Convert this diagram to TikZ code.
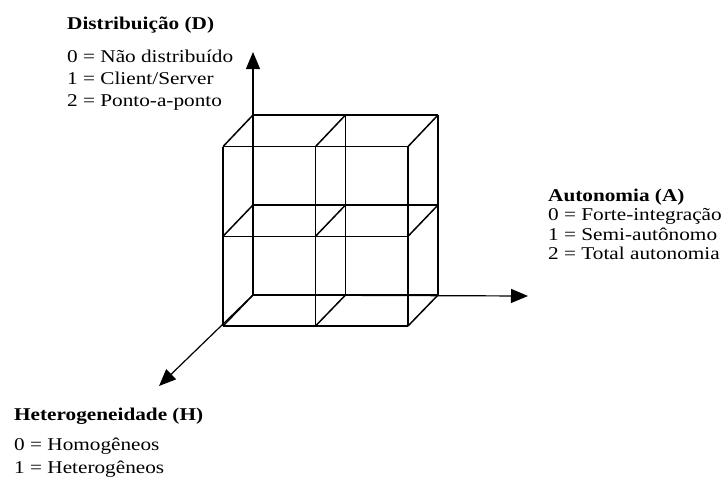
\documentclass[tikz,border=0pt]{standalone}
\usepackage{fontspec}
\setmainfont[FakeStretch=1.18]{Liberation Serif}
\usetikzlibrary{arrows.meta}
\begin{document}
\begin{tikzpicture}[x=1pt,y=-1pt,
  edge/.style={line width=1.5pt},
  axis/.style={line width=1.2pt,-{Triangle[length=17pt,width=14pt]}},
  lbl/.style={anchor=base west,inner sep=0pt,font=\fontsize{18}{21}\selectfont},
  ttl/.style={anchor=base west,inner sep=0pt,font=\fontsize{18}{21}\selectfont\bfseries}]
\useasboundingbox (0,0) rectangle (724,477);

% grid points of the back (B) and front (F) faces of the 2x2x1 block
\foreach \i in {0,1,2} {
  \foreach \j in {0,1,2} {
    \coordinate (B\i\j) at ({253+92.5*\i},{295-90*\j});
    \coordinate (F\i\j) at ({223+92.5*\i},{326-89.7*\j});
  }
}

% faces and depth edges
\foreach \k in {0,1,2} {
  \draw[edge] (B\k0) -- (B\k2);
  \draw[edge] (B0\k) -- (B2\k);
  \draw[edge] (F\k0) -- (F\k2);
  \draw[edge] (F0\k) -- (F2\k);
  \draw[edge] (B\k0) -- (F\k0);
  \draw[edge] (B\k1) -- (F\k1);
  \draw[edge] (B\k2) -- (F\k2);
}

% axes
\coordinate (tipD) at (253,52);
\coordinate (tipA) at (528,296);
\coordinate (tipH) at (159,386);
\draw[axis] (B00) -- (tipD);
\draw[axis] (B00) -- (tipA);
\draw[axis] (B00) -- (tipH);

% Distribution
\node[ttl] (dT) at (67,29) {Distribuição (D)};
\node[lbl] (d0) at (67,62.5) {0 = Não distribuído};
\node[lbl] (d1) at (67,84.5) {1 = Client/Server};
\node[lbl] (d2) at (67,106.5) {2 = Ponto-a-ponto};

% Autonomy
\node[ttl] (aT) at (548,201) {Autonomia (A)};
\node[lbl] (a0) at (548,220.5) {0 = Forte-integração};
\node[lbl] (a1) at (548,240) {1 = Semi-autônomo};
\node[lbl] (a2) at (548,259.5) {2 = Total autonomia};

% Heterogeneity
\node[ttl] (hT) at (14,420) {Heterogeneidade (H)};
\node[lbl] (h0) at (14,450) {0 = Homogêneos};
\node[lbl] (h1) at (14,473) {1 = Heterogêneos};
\end{tikzpicture}
\end{document}
